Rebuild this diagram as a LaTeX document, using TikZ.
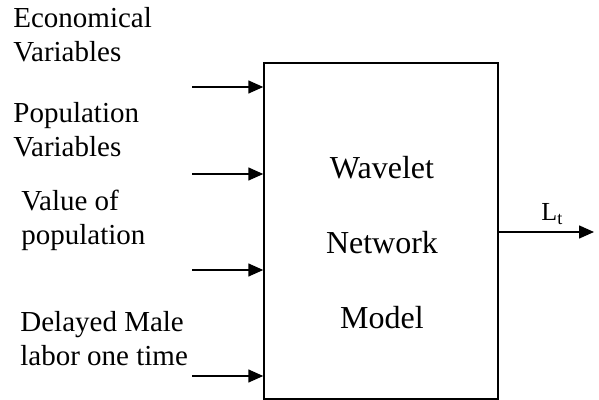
\documentclass[tikz,border=0pt]{standalone}
\usepackage{fontspec}
\setmainfont{Liberation Serif}
\usepackage{tikz}
\usetikzlibrary{arrows.meta,calc}

\begin{document}
\begin{tikzpicture}[x=0.5pt, y=-0.5pt,
  lbl/.style={align=left, anchor=base west, inner sep=0pt,
    font=\fontsize{14.5}{17}\selectfont},
  inarrow/.style={-{Triangle[length=7.5pt, width=6.5pt]}, line width=0.75pt}]
  \useasboundingbox (0,0) rectangle (599,400);
  % the model block
  \node (wnm) [draw, line width=0.75pt, minimum width=117pt, minimum height=168pt,
    inner sep=0pt] at (381,231) {};
  \node (wnmtxt) [align=center, inner sep=0pt, font=\fontsize{16}{37.5}\selectfont]
    at (382,243) {Wavelet\\Network\\Model};
  % input labels (anchored at the last line)
  \node (eco) [lbl] at (13,62) {Economical\\Variables};
  \node (pop) [lbl] at (13,157) {Population\\Variables};
  \node (val) [lbl] at (21,245) {Value of\\population};
  \node (del) [lbl] at (20,365) {Delayed Male\\labor one time};
  % input arrows
  \coordinate (in1) at (192,87);
  \coordinate (in2) at (192,174);
  \coordinate (in3) at (192,270);
  \coordinate (in4) at (192,376);
  \foreach \i in {1,...,4}
    \draw[inarrow] (in\i) -- (in\i -| wnm.west);
  % output
  \coordinate (out) at (594,232);
  \draw[inarrow] (wnm.east |- out) -- node [above, pos=0.5, xshift=3pt,
    font=\fontsize{13}{15}\selectfont] {L\textsubscript{t}} (out);
\end{tikzpicture}
\end{document}
